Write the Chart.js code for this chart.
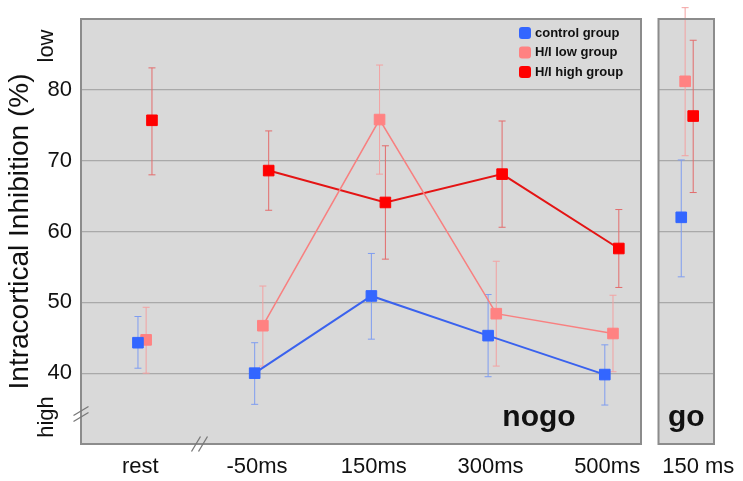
<!DOCTYPE html>
<html>
<head>
<meta charset="utf-8">
<script src="https://cdn.jsdelivr.net/npm/chart.js@4/dist/chart.umd.min.js"></script>
<style>
  html, body { margin: 0; padding: 0; background: #fff; }
  .wrap { position: relative; width: 743px; height: 481px; }
  .panel { position: absolute; top: 0; height: 481px; }
  #mainBox { left: 0; width: 650px; }
  #goBox { left: 650px; width: 93px; }
</style>
</head>
<body>
<div class="wrap">
  <div class="panel" id="mainBox"><canvas id="mainChart"></canvas></div>
  <div class="panel" id="goBox"><canvas id="goChart"></canvas></div>
</div>
<script>
// ── Data ──
const conditions = ['rest', '-50ms', '150ms', '300ms', '500ms'];
const goLabel = '150 ms';
const groupNames = ['control group', 'H/I low group', 'H/I high group'];

const controlMean = [44.3, 40.0, 50.9, 45.3, 39.8];
const controlLo   = [40.7, 35.6, 44.8, 39.5, 35.5];
const controlHi   = [48.0, 44.3, 56.9, 51.1, 44.0];

const lowMean = [44.7, 46.7, 75.8, 48.4, 45.6];
const lowLo   = [40.0, 41.0, 68.1, 41.0, 40.2];
const lowHi   = [49.3, 52.3, 83.5, 55.8, 51.0];

const highMean = [75.7, 68.6, 64.1, 68.1, 57.6];
const highLo   = [68.0, 63.0, 56.1, 60.6, 52.1];
const highHi   = [83.1, 74.2, 72.1, 75.6, 63.1];

// go condition (150 ms), same group order
const goMean = [62.0, 81.2, 76.3];
const goLo   = [53.6, 70.7, 65.5];
const goHi   = [70.1, 91.6, 87.0];

const yTicks = [40, 50, 60, 70, 80];

// ── Styles ──
const FONT = "'Liberation Sans', Arial, sans-serif";
const markerColors = ['#3366ff', '#ff8282', '#ff0000'];
const lineColors   = ['#3a62ee', '#f88080', '#e41414'];
const errColors    = ['#7f9df0', '#f3a2a2', '#e36c6c'];
const lineWidths   = [2, 1.5, 2];
const mainOffsets  = [-0.02, 0.05, 0.1];
const goOffsets    = [-0.09, -0.02, 0.125];

Chart.defaults.font.family = FONT;
Chart.defaults.color = '#111';

// ── Plugins ──
const panelBg = {
  id: 'panelBg',
  beforeDraw(chart) {
    const { ctx, chartArea: a } = chart;
    ctx.save();
    ctx.fillStyle = '#d9d9d9';
    ctx.fillRect(a.left, a.top, a.right - a.left, a.bottom - a.top);
    ctx.restore();
  },
  afterDraw(chart) {
    const { ctx, chartArea: a } = chart;
    ctx.save();
    ctx.strokeStyle = '#8c8c8c';
    ctx.lineWidth = 2;
    ctx.strokeRect(a.left, a.top, a.right - a.left, a.bottom - a.top);
    ctx.restore();
  }
};

const errorBars = {
  id: 'errorBars',
  beforeDatasetsDraw(chart) {
    const { ctx } = chart;
    const y = chart.scales.y;
    chart.data.datasets.forEach((ds, i) => {
      const meta = chart.getDatasetMeta(i);
      ctx.save();
      ctx.strokeStyle = ds.errColor;
      ctx.lineWidth = 1;
      meta.data.forEach((pt, j) => {
        const top = y.getPixelForValue(ds.errHi[j]);
        const bot = y.getPixelForValue(ds.errLo[j]);
        ctx.beginPath();
        ctx.moveTo(pt.x, top); ctx.lineTo(pt.x, bot);
        ctx.moveTo(pt.x - 3.5, top); ctx.lineTo(pt.x + 3.5, top);
        ctx.moveTo(pt.x - 3.5, bot); ctx.lineTo(pt.x + 3.5, bot);
        ctx.stroke();
      });
      ctx.restore();
    });
  }
};

function rotatedText(ctx, text, x, y) {
  ctx.save();
  ctx.translate(x, y);
  ctx.rotate(-Math.PI / 2);
  ctx.textAlign = 'center';
  ctx.textBaseline = 'alphabetic';
  ctx.fillText(text, 0, 0);
  ctx.restore();
}

function breakMark(ctx, cx, cy, dx, dy) {
  ctx.beginPath();
  ctx.moveTo(cx - dx, cy + dy);
  ctx.lineTo(cx + dx, cy - dy);
  ctx.stroke();
}

const mainDecor = {
  id: 'mainDecor',
  afterDraw(chart) {
    const { ctx, chartArea: a } = chart;
    ctx.save();
    ctx.fillStyle = '#111';
    ctx.font = '22px ' + FONT;
    rotatedText(ctx, 'low', 53, 46);
    rotatedText(ctx, 'high', 53, 417);

    // axis breaks
    ctx.strokeStyle = '#777';
    ctx.lineWidth = 1.3;
    breakMark(ctx, a.left, a.bottom - 33, 7.5, 4.5);
    breakMark(ctx, a.left, a.bottom - 27, 7.5, 4.5);
    breakMark(ctx, 196, a.bottom, 4.5, 7.5);
    breakMark(ctx, 203, a.bottom, 4.5, 7.5);

    // condition label
    ctx.font = 'bold 30px ' + FONT;
    ctx.textAlign = 'center';
    ctx.fillText('nogo', 539, 426);

    // legend
    ctx.font = 'bold 13px ' + FONT;
    ctx.textAlign = 'left';
    ctx.textBaseline = 'middle';
    groupNames.forEach((name, i) => {
      const yy = 33 + i * 19.5;
      ctx.fillStyle = markerColors[i];
      ctx.beginPath();
      ctx.roundRect(519, yy - 6, 12, 12, 3);
      ctx.fill();
      ctx.fillStyle = '#111';
      ctx.fillText(name, 535, yy);
    });
    ctx.restore();
  }
};

const goDecor = {
  id: 'goDecor',
  afterDraw(chart) {
    const { ctx, chartArea: a } = chart;
    ctx.save();
    ctx.fillStyle = '#111';
    ctx.font = 'bold 30px ' + FONT;
    ctx.textAlign = 'center';
    ctx.fillText('go', (a.left + a.right) / 2, 426);
    ctx.restore();
  }
};

// ── Shared scale options ──
function yScale(show) {
  return {
    min: 30, max: 90,
    display: true,
    afterFit: s => {
      s.width = show ? 81 : 0;
      s.paddingTop = 0; s.paddingBottom = 0;
    },
    afterBuildTicks: s => { s.ticks = yTicks.map(v => ({ value: v })); },
    ticks: {
      display: show,
      font: { size: 22, family: FONT },
      color: '#111',
      padding: 9
    },
    grid: { color: '#a9a9a9', lineWidth: 1.3, drawTicks: false },
    border: { display: false },
    title: {
      display: show,
      text: 'Intracortical Inhibition (%)',
      font: { size: 28, family: FONT },
      color: '#111',
      padding: { top: 3, bottom: 0 }
    }
  };
}

function xFit(s) {
  s.height = 37;
  s.paddingLeft = 0; s.paddingRight = 0;
}

function buildSets(means, los, his, xs) {
  return means.map((vals, g) => ({
    label: groupNames[g],
    data: vals.map((v, i) => ({ x: xs(i, g), y: v })),
    errLo: los[g],
    errHi: his[g],
    errColor: errColors[g],
    borderColor: lineColors[g],
    backgroundColor: markerColors[g],
    pointBackgroundColor: markerColors[g],
    pointBorderColor: markerColors[g],
    pointBorderWidth: 1,
    borderWidth: lineWidths[g],
    pointStyle: 'rect',
    pointRadius: 7.5,
    pointHoverRadius: 7.5,
    showLine: true,
    clip: false,
    segment: {
      borderColor: ctx => ctx.p0DataIndex === 0 ? 'rgba(0,0,0,0)' : undefined
    }
  }));
}

// ── Main (nogo) Chart ──
new Chart(document.getElementById('mainChart'), {
  type: 'scatter',
  data: {
    datasets: buildSets(
      [controlMean, lowMean, highMean],
      [controlLo, lowLo, highLo],
      [controlHi, lowHi, highHi],
      (i, g) => i + mainOffsets[g]
    )
  },
  options: {
    responsive: true, maintainAspectRatio: false, animation: false,
    layout: { padding: { top: 19, right: 9, left: 0, bottom: 0 } },
    plugins: { legend: { display: false }, tooltip: { enabled: false } },
    scales: {
      x: {
        type: 'linear', min: -0.508, max: 4.29,
        afterFit: xFit,
        afterBuildTicks: s => { s.ticks = conditions.map((_, i) => ({ value: i })); },
        ticks: {
          callback: v => conditions[v],
          font: { size: 22, family: FONT },
          color: '#111',
          padding: 10,
          maxRotation: 0
        },
        grid: { display: false, drawTicks: false },
        border: { display: false }
      },
      y: yScale(true)
    }
  },
  plugins: [panelBg, errorBars, mainDecor]
});

// ── Go Chart ──
new Chart(document.getElementById('goChart'), {
  type: 'scatter',
  data: {
    datasets: buildSets(
      [[goMean[0]], [goMean[1]], [goMean[2]]],
      [[goLo[0]], [goLo[1]], [goLo[2]]],
      [[goHi[0]], [goHi[1]], [goHi[2]]],
      (i, g) => 0.5 + goOffsets[g]
    )
  },
  options: {
    responsive: true, maintainAspectRatio: false, animation: false,
    layout: { padding: { top: 19, right: 29, left: 8, bottom: 0 } },
    plugins: { legend: { display: false }, tooltip: { enabled: false } },
    scales: {
      x: {
        type: 'linear', min: 0, max: 1,
        afterFit: xFit,
        afterBuildTicks: s => { s.ticks = [{ value: 0.5 }]; },
        ticks: {
          callback: () => goLabel,
          font: { size: 22, family: FONT },
          color: '#111',
          padding: 10,
          labelOffset: 12,
          maxRotation: 0,
          autoSkip: false
        },
        grid: { display: false, drawTicks: false },
        border: { display: false }
      },
      y: yScale(false)
    }
  },
  plugins: [panelBg, errorBars, goDecor]
});
</script>
</body>
</html>
